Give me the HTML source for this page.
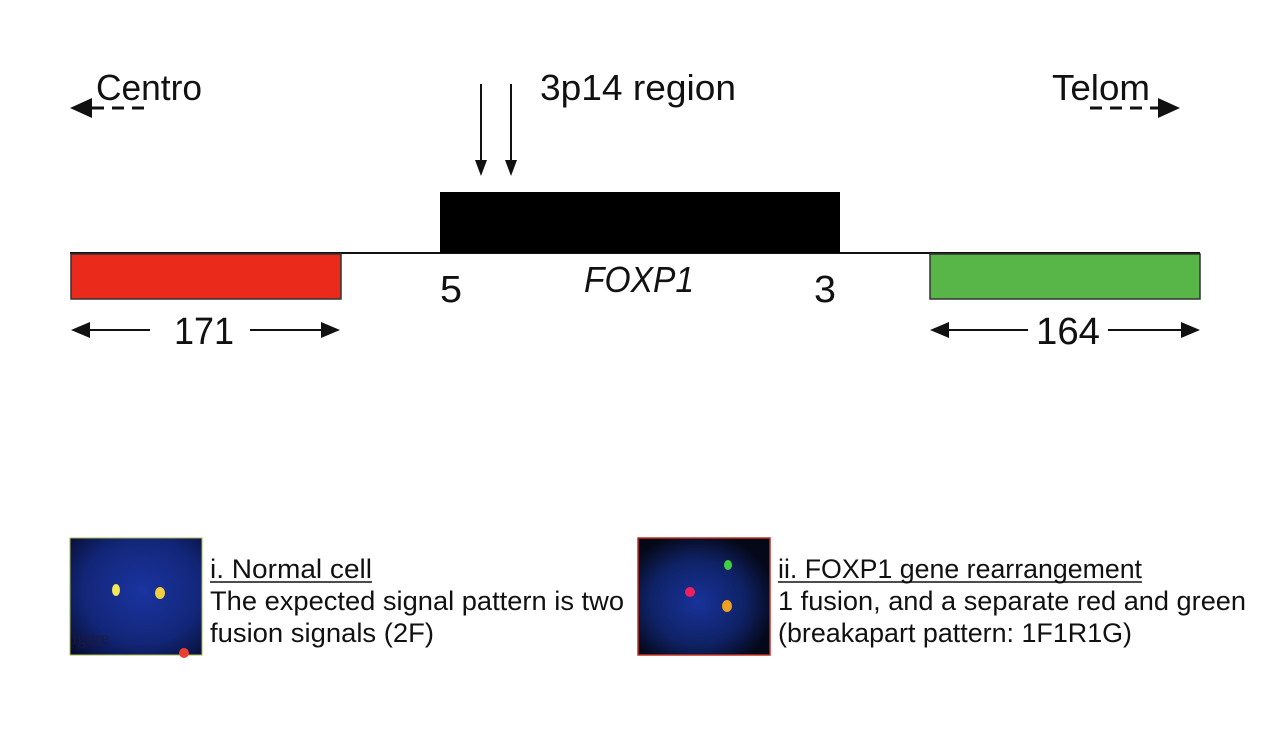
<!DOCTYPE html>
<html><head><meta charset="utf-8"><style>
html,body{margin:0;padding:0;background:#fff;}
svg{display:block}
text{font-family:"Liberation Sans",sans-serif;fill:#111}
</style></head><body>
<svg width="1280" height="733" viewBox="0 0 1280 733" xmlns="http://www.w3.org/2000/svg">
<defs>
<radialGradient id="g1" cx="55%" cy="45%" r="75%"><stop offset="0" stop-color="#1a34a0"/><stop offset="0.6" stop-color="#122678"/><stop offset="1" stop-color="#060c30"/></radialGradient>
<radialGradient id="g2" cx="45%" cy="55%" r="60%"><stop offset="0" stop-color="#18329a"/><stop offset="0.6" stop-color="#0f2266"/><stop offset="1" stop-color="#050818"/></radialGradient>
</defs>
<text x="96" y="100" font-size="36" textLength="106" lengthAdjust="spacingAndGlyphs">Centro</text>
<polygon points="70,108 92,98 92,118" fill="#111"/>
<path d="M92 108 H150" stroke="#111" stroke-width="3" stroke-dasharray="12,8"/>
<text x="540" y="100" font-size="36" textLength="196" lengthAdjust="spacingAndGlyphs">3p14 region</text>
<line x1="481" y1="84" x2="481" y2="168" stroke="#111" stroke-width="2"/>
<polygon points="475,160 487,160 481,176" fill="#111"/>
<line x1="511" y1="84" x2="511" y2="168" stroke="#111" stroke-width="2"/>
<polygon points="505,160 517,160 511,176" fill="#111"/>
<text x="1052" y="100" font-size="36" textLength="98" lengthAdjust="spacingAndGlyphs">Telom</text>
<path d="M1090 108 H1158" stroke="#111" stroke-width="3" stroke-dasharray="12,8"/>
<polygon points="1180,108 1158,98 1158,118" fill="#111"/>
<line x1="70" y1="253" x2="1200" y2="253" stroke="#111" stroke-width="2"/>
<rect x="440" y="192" width="400" height="61" fill="#000"/>
<rect x="71" y="254" width="270" height="45" fill="#ea2a1a" stroke="#333" stroke-width="1.5"/>
<rect x="930" y="254" width="270" height="45" fill="#58b548" stroke="#333" stroke-width="1.5"/>
<text x="440" y="302" font-size="38" textLength="22" lengthAdjust="spacingAndGlyphs">5</text>
<text x="584" y="292" font-size="36" font-style="italic" textLength="110" lengthAdjust="spacingAndGlyphs">FOXP1</text>
<text x="814" y="302" font-size="38" textLength="22" lengthAdjust="spacingAndGlyphs">3</text>
<polygon points="71,330 90,322 90,338" fill="#111"/>
<line x1="88" y1="330" x2="150" y2="330" stroke="#111" stroke-width="2"/>
<text x="174" y="344" font-size="38" textLength="60" lengthAdjust="spacingAndGlyphs">171</text>
<line x1="250" y1="330" x2="322" y2="330" stroke="#111" stroke-width="2"/>
<polygon points="340,330 321,322 321,338" fill="#111"/>
<polygon points="930,330 949,322 949,338" fill="#111"/>
<line x1="947" y1="330" x2="1028" y2="330" stroke="#111" stroke-width="2"/>
<text x="1036" y="344" font-size="38" textLength="64" lengthAdjust="spacingAndGlyphs">164</text>
<line x1="1108" y1="330" x2="1182" y2="330" stroke="#111" stroke-width="2"/>
<polygon points="1200,330 1181,322 1181,338" fill="#111"/>
<rect x="70" y="538" width="132" height="117" fill="url(#g1)" stroke="#a8b84a" stroke-width="1"/>
<ellipse cx="116" cy="590" rx="4" ry="6" fill="#f2e85a"/>
<ellipse cx="160" cy="593" rx="5" ry="6" fill="#f0d040"/>
<circle cx="184" cy="653" r="5" fill="#e84030"/>
<text x="72" y="644" font-size="18" style="fill:#1a1a40;font-family:'Liberation Serif',serif">igure</text>
<text x="210" y="578" font-size="27" textLength="162" lengthAdjust="spacingAndGlyphs">i. Normal cell</text>
<line x1="210" y1="582" x2="372" y2="582" stroke="#111" stroke-width="1.5"/>
<text x="210" y="610" font-size="27" textLength="414" lengthAdjust="spacingAndGlyphs">The expected signal pattern is two</text>
<text x="210" y="642" font-size="27" textLength="224" lengthAdjust="spacingAndGlyphs">fusion signals (2F)</text>
<rect x="638" y="538" width="132" height="117" fill="url(#g2)" stroke="#c03020" stroke-width="1.5"/>
<ellipse cx="728" cy="565" rx="4" ry="5" fill="#40d040"/>
<ellipse cx="690" cy="592" rx="5" ry="5" fill="#f02060"/>
<ellipse cx="727" cy="606" rx="5" ry="6" fill="#f0a020"/>
<text x="778" y="578" font-size="27" textLength="364" lengthAdjust="spacingAndGlyphs">ii. FOXP1 gene rearrangement</text>
<line x1="778" y1="582" x2="1142" y2="582" stroke="#111" stroke-width="1.5"/>
<text x="778" y="610" font-size="27" textLength="468" lengthAdjust="spacingAndGlyphs">1 fusion, and a separate red and green</text>
<text x="778" y="642" font-size="27" textLength="354" lengthAdjust="spacingAndGlyphs">(breakapart pattern: 1F1R1G)</text>
</svg>
</body></html>
